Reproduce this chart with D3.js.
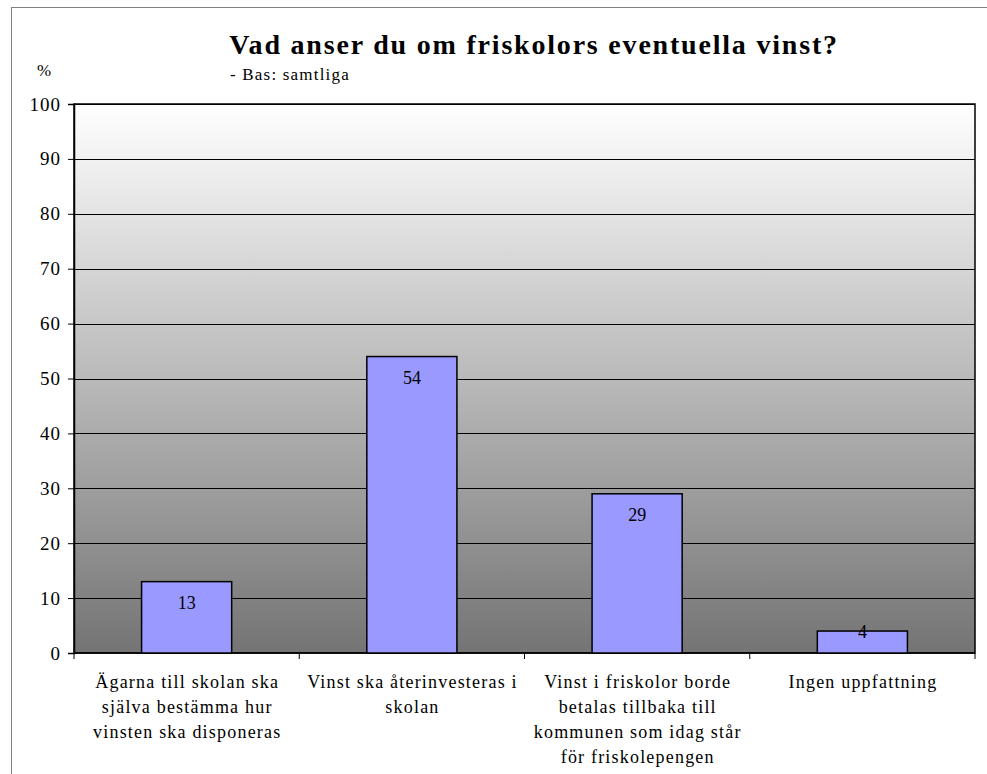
<!DOCTYPE html>
<html>
<head>
<meta charset="utf-8">
<script src="https://cdn.jsdelivr.net/npm/d3@7"></script>
<style>
  body { margin: 0; background: #fff; }
</style>
</head>
<body>
<div id="chart"></div>
<script>
const categories = ['agarna', 'vinst', 'tillbaka', 'ingen'];
const categoryLabels = [
  ['Ägarna till skolan ska', 'själva bestämma hur', 'vinsten ska disponeras'],
  ['Vinst ska återinvesteras i', 'skolan'],
  ['Vinst i friskolor borde', 'betalas tillbaka till', 'kommunen som idag står', 'för friskolepengen'],
  ['Ingen uppfattning'],
];
const values = [13, 54, 29, 4];
const yTicks = [0, 10, 20, 30, 40, 50, 60, 70, 80, 90, 100];

const W = 987;
const H = 774;
const plot = { left: 74, right: 975, top: 104, bottom: 653 };
const serif = "'Liberation Serif', 'Times New Roman', Times, Tinos, 'DejaVu Serif', serif";

const svg = d3.select('#chart').append('svg')
  .attr('width', W)
  .attr('height', H)
  .attr('font-family', serif);

// outer frame (runs off the picture on the right and bottom)
svg.append('rect')
  .attr('x', 11.5).attr('y', 7.5)
  .attr('width', 1100).attr('height', 1100)
  .attr('fill', 'none')
  .attr('stroke', '#808080')
  .attr('stroke-width', 1);

const grad = svg.append('defs').append('linearGradient')
  .attr('id', 'bg')
  .attr('x1', 0).attr('y1', 0).attr('x2', 0).attr('y2', 1);
grad.append('stop').attr('offset', '0%').attr('stop-color', '#ffffff');
grad.append('stop').attr('offset', '100%').attr('stop-color', '#747474');

const x = d3.scaleBand()
  .domain(categories)
  .range([plot.left, plot.right])
  .paddingInner(0.6)
  .paddingOuter(0.3);

const y = d3.scaleLinear()
  .domain([0, 100])
  .range([plot.bottom, plot.top]);

svg.append('rect')
  .attr('x', plot.left).attr('y', plot.top)
  .attr('width', plot.right - plot.left)
  .attr('height', plot.bottom - plot.top)
  .attr('fill', 'url(#bg)');

// gridlines
svg.append('g')
  .selectAll('line')
  .data(yTicks.slice(1))
  .join('line')
  .attr('x1', plot.left).attr('x2', plot.right)
  .attr('y1', d => Math.round(y(d)) + 0.5)
  .attr('y2', d => Math.round(y(d)) + 0.5)
  .attr('stroke', '#000')
  .attr('stroke-width', 1);

// plot border
svg.append('rect')
  .attr('x', plot.left).attr('y', plot.top)
  .attr('width', plot.right - plot.left)
  .attr('height', plot.bottom - plot.top)
  .attr('fill', 'none')
  .attr('stroke', '#000')
  .attr('stroke-width', 1.5);

// y axis
const yAxis = d3.axisLeft(y)
  .tickValues(yTicks)
  .tickSize(6)
  .tickPadding(7);

const yG = svg.append('g')
  .attr('transform', `translate(${plot.left},0)`)
  .call(yAxis)
  .attr('font-family', serif)
  .attr('font-size', 19);
yG.select('.domain').attr('stroke', '#000').attr('stroke-width', 1.5);
yG.selectAll('.tick line').attr('stroke', '#000');
yG.selectAll('.tick text').attr('fill', '#000').attr('letter-spacing', 1);

// x axis: ticks on category boundaries
const step = x.step();
const xEdges = d3.range(categories.length + 1).map(i => plot.left + i * step);

svg.append('line')
  .attr('x1', plot.left).attr('x2', plot.right)
  .attr('y1', plot.bottom).attr('y2', plot.bottom)
  .attr('stroke', '#000').attr('stroke-width', 1.5);

svg.append('g')
  .selectAll('line')
  .data(xEdges)
  .join('line')
  .attr('x1', d => d).attr('x2', d => d)
  .attr('y1', plot.bottom).attr('y2', plot.bottom + 6)
  .attr('stroke', '#000');

// bars
svg.append('g')
  .selectAll('rect')
  .data(values)
  .join('rect')
  .attr('x', (d, i) => x(categories[i]))
  .attr('y', d => y(d))
  .attr('width', x.bandwidth())
  .attr('height', d => y(0) - y(d))
  .attr('fill', '#9999ff')
  .attr('stroke', '#000')
  .attr('stroke-width', 1.5);

// value labels
svg.append('g')
  .selectAll('text')
  .data(values)
  .join('text')
  .attr('x', (d, i) => x(categories[i]) + x.bandwidth() / 2)
  .attr('y', d => Math.min(y(d) + 27, plot.bottom - 15))
  .attr('text-anchor', 'middle')
  .attr('font-size', 18)
  .text(d => d);

// category labels
const catG = svg.append('g')
  .selectAll('text')
  .data(categoryLabels)
  .join('text')
  .attr('text-anchor', 'middle')
  .attr('font-size', 18)
  .attr('letter-spacing', 1.2);

catG.selectAll('tspan')
  .data((d, i) => d.map(line => ({ line, i })))
  .join('tspan')
  .attr('x', d => x(categories[d.i]) + x.bandwidth() / 2 + 0.6)
  .attr('y', (d, j) => 688 + j * 25)
  .text(d => d.line);

// titles
svg.append('text')
  .attr('x', 534)
  .attr('y', 54)
  .attr('text-anchor', 'middle')
  .attr('font-size', 28)
  .attr('font-weight', 'bold')
  .attr('letter-spacing', 1.8)
  .text('Vad anser du om friskolors eventuella vinst?');

svg.append('text')
  .attr('x', 230)
  .attr('y', 80)
  .attr('font-size', 17)
  .attr('letter-spacing', 1.2)
  .text('- Bas: samtliga');

svg.append('text')
  .attr('x', 37)
  .attr('y', 76)
  .attr('font-size', 17)
  .text('%');
</script>
</body>
</html>
